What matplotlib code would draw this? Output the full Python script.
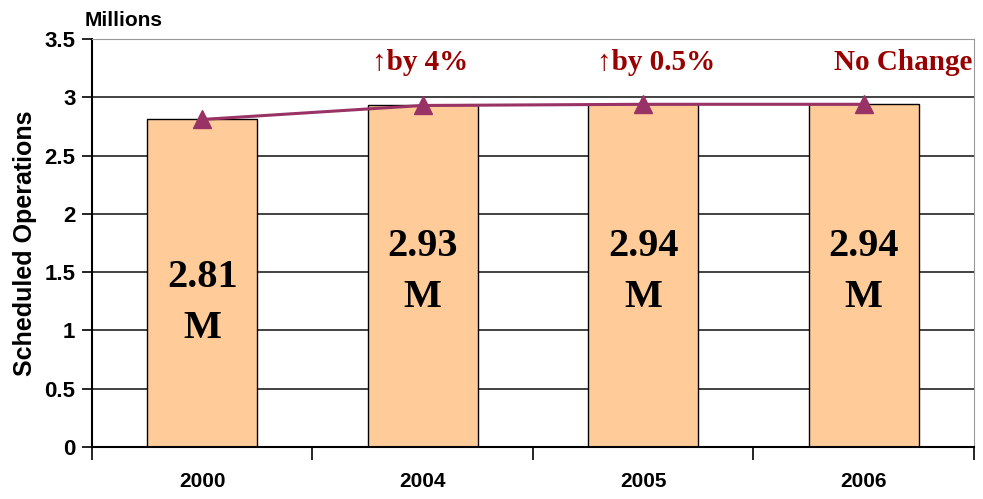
import numpy as np
import matplotlib.pyplot as plt
from matplotlib import font_manager

# ── Datos ────────────────────────────────────────────────────────────
years = ["2000", "2004", "2005", "2006"]
ops_millions = [2.81, 2.93, 2.94, 2.94]
bar_labels = ["2.81\nM", "2.93\nM", "2.94\nM", "2.94\nM"]
change_labels = ["", "\u2191by 4%", "\u2191by 0.5%", "No Change"]

# ── Estilo ──────────────────────────────────────────────────────────
bar_color = "#FFCC99"
line_color = "#993366"
note_color = "#990000"
serif = ["Liberation Serif", "DejaVu Serif"]

# fuente estrecha si existe
installed = {f.name for f in font_manager.fontManager.ttflist}
narrow = "Liberation Sans"
for cand in ["Liberation Sans Narrow", "DejaVu Sans Condensed", "Arial Narrow"]:
    if cand in installed:
        narrow = cand
        break

fig = plt.figure(figsize=(9.83, 4.99), dpi=100)
ax = fig.add_axes([0.0936, 0.1042, 0.8972, 0.8176])

x = np.arange(len(years))
ax.bar(x, ops_millions, width=0.5, color=bar_color, edgecolor="black",
       linewidth=1.0, zorder=2)
ax.plot(x, ops_millions, color=line_color, linewidth=2.2, marker="^",
        markersize=13, zorder=3)

# etiquetas dentro de las barras
label_y = [1.235, 1.50, 1.50, 1.50]
for xi, lab, yi in zip(x, bar_labels, label_y):
    ax.text(xi, yi, lab, ha="center", va="center", fontsize=29,
            fontweight="bold", family=serif, linespacing=1.5, zorder=4)

# notas de variación
note_dx = [0, -0.01, 0.06, 0.18]
for xi, lab, dx in zip(x, change_labels, note_dx):
    if lab:
        ax.text(xi + dx, 3.30, lab, ha="center", va="center", fontsize=21,
                fontweight="bold", family=serif, color=note_color, zorder=4)

# ejes
ax.set_xlim(-0.5, 3.5)
ax.set_ylim(0, 3.5)
ax.set_yticks(np.arange(0, 3.51, 0.5))
ax.set_yticklabels(["0", "0.5", "1", "1.5", "2", "2.5", "3", "3.5"])
for yv in np.arange(0.5, 3.01, 0.5):
    ax.axhline(yv, color="#222222", linewidth=1.2, zorder=1)

ax.set_xticks(np.arange(-0.5, 3.51, 1.0))
ax.set_xticklabels([])
ax.set_xticks(x, minor=True)
ax.set_xticklabels(years, minor=True)
ax.tick_params(axis="x", which="major", direction="out", length=9, width=1.2)
ax.tick_params(axis="x", which="minor", length=0, pad=18, labelsize=15)
ax.tick_params(axis="y", direction="out", length=7, width=1.2, labelsize=16,
               pad=5)
for lab in ax.get_xticklabels(minor=True) + ax.get_yticklabels():
    lab.set_family(narrow)
    lab.set_fontweight("bold")

ax.spines["left"].set_linewidth(1.5)
ax.spines["bottom"].set_linewidth(1.5)
ax.spines["top"].set_color("#999999")
ax.spines["right"].set_color("#999999")

ax.set_ylabel("Scheduled Operations", fontsize=18, fontweight="bold",
              family=narrow, labelpad=5)
fig.text(0.086, 0.94, "Millions", fontsize=15, fontweight="bold",
         family=narrow, ha="left", va="bottom")

plt.savefig("out.png", dpi=100)
